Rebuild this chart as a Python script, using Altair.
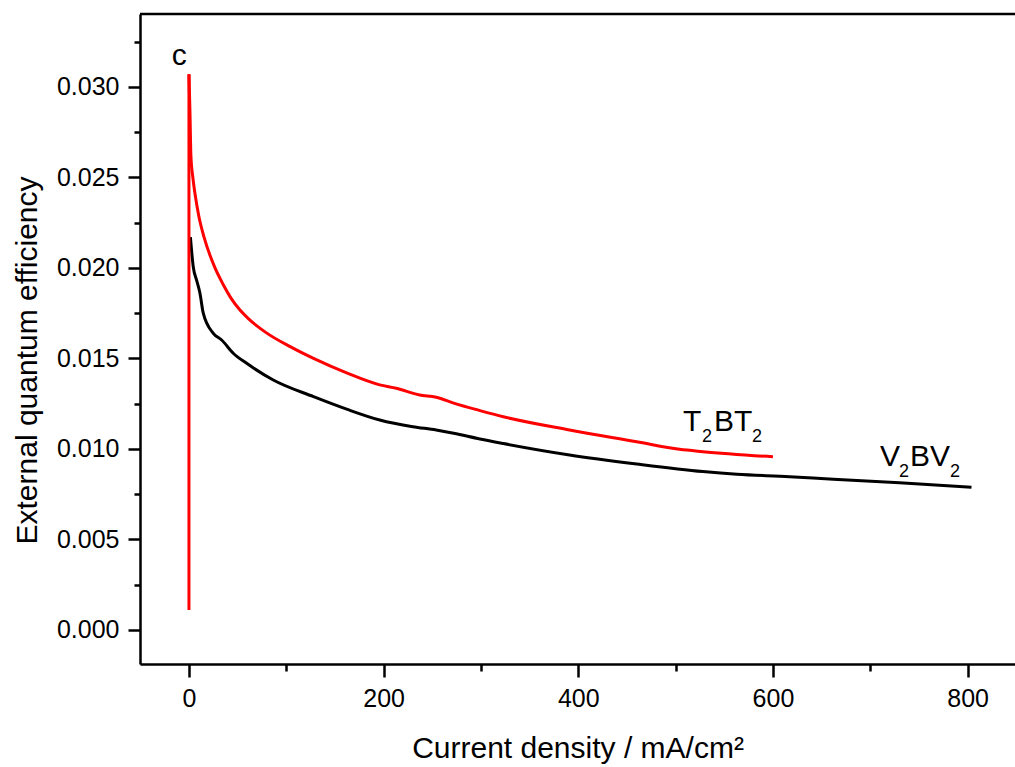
import altair as alt
import pandas as pd

# T2BT2 (red)
t_x = [0, 0, 1, 2, 4, 6.5, 10, 15.5, 26, 35, 43, 52, 61, 80, 104, 128, 162, 196, 213, 237, 254, 272, 299, 323,
       391, 460, 504, 528, 600]
t_y = [0.0011, 0.0307, 0.0287, 0.0262, 0.0250, 0.0240, 0.0229, 0.0217, 0.0201, 0.0191, 0.01835, 0.0177, 0.0172,
       0.0164, 0.01565, 0.0150, 0.0142, 0.01354, 0.01335, 0.01298, 0.01286, 0.01253, 0.01212, 0.01178,
       0.01105, 0.01040, 0.00998, 0.00985, 0.00957]

# V2BV2 (black)
v_x = [1.5, 4.4, 8.0, 11.3, 14.7, 25, 33.6, 45.5, 59.3, 86.6, 128, 162, 196, 230, 254, 272, 299, 323, 391, 460,
       528, 563, 617, 662, 730, 804]
v_y = [0.0217, 0.02007, 0.0193, 0.01860, 0.01750, 0.01639, 0.01602, 0.01529, 0.01473, 0.01381, 0.01289, 0.0122,
       0.01160, 0.01123, 0.01105, 0.01087, 0.01055, 0.0103, 0.00967, 0.00917, 0.00875, 0.00860, 0.00847,
       0.00832, 0.00814, 0.00788]

x_ticks = [0, 100, 200, 300, 400, 500, 600, 700, 800]
y_ticks = [0, 0.0025, 0.005, 0.0075, 0.01, 0.0125, 0.015, 0.0175, 0.02, 0.0225, 0.025, 0.0275, 0.03, 0.0325]

# annotations: text pieces, subscript flags, x offsets (px)
lab_c = {"t": "c", "x": -10, "y": 0.0317}
lab_t = {"x": 507.5, "y": 0.01099, "pieces": ["T", "2", "BT", "2"], "sub": [0, 1, 0, 1], "dx": [0, 19, 31, 69]}
lab_v = {"x": 710, "y": 0.00906, "pieces": ["V", "2", "BV", "2"], "sub": [0, 1, 0, 1], "dx": [0, 19, 30, 70]}

df_t = pd.DataFrame({"x": t_x, "y": t_y, "i": range(len(t_x))})
df_v = pd.DataFrame({"x": v_x, "y": v_y, "i": range(len(v_x))})

FONT = "Liberation Sans"
W, H = 875, 650

xscale = alt.Scale(domain=[-50.3, 848.7], nice=False, zero=False)
yscale = alt.Scale(domain=[-0.00188, 0.03403], nice=False, zero=False)

xaxis = alt.Axis(
    title="Current density / mA/cm\u00b2", values=x_ticks,
    labelExpr="datum.value % 200 == 0 ? datum.label : ''",
    tickSize={"condition": {"test": "datum.value % 200 == 0", "value": 13}, "value": 7},
    grid=False, domainColor="black", domainWidth=2.5, tickColor="black", tickWidth=2.5,
    labelFont=FONT, labelFontSize=25, labelColor="black", labelPadding=9,
    titleFont=FONT, titleFontSize=30, titleFontWeight="normal", titleColor="black", titlePadding=22,
)
yaxis = alt.Axis(
    title="External quantum efficiency", values=y_ticks,
    labelExpr="round(datum.value*400) % 2 == 0 ? format(datum.value, '.3f') : ''",
    tickSize={"condition": {"test": "round(datum.value*400) % 2 == 0", "value": 12}, "value": 6},
    grid=False, domainColor="black", domainWidth=2.5, tickColor="black", tickWidth=2.5,
    labelFont=FONT, labelFontSize=25, labelColor="black", labelPadding=9,
    titleFont=FONT, titleFontSize=30, titleFontWeight="normal", titleColor="black", titlePadding=14,
    titleY=346,
)

black = alt.Chart(df_v).mark_line(color="black", strokeWidth=3, clip=True, interpolate="monotone").encode(
    x=alt.X("x:Q", scale=xscale, axis=xaxis),
    y=alt.Y("y:Q", scale=yscale, axis=yaxis),
    order="i:Q",
)
red_vert = alt.Chart(df_t.iloc[:2]).mark_line(color="#ff0000", strokeWidth=3, clip=True).encode(
    x=alt.X("x:Q", scale=xscale),
    y=alt.Y("y:Q", scale=yscale),
    order="i:Q",
)
red_curve = alt.Chart(df_t.iloc[1:]).mark_line(color="#ff0000", strokeWidth=3, clip=True,
                                                interpolate="monotone").encode(
    x=alt.X("x:Q", scale=xscale),
    y=alt.Y("y:Q", scale=yscale),
    order="i:Q",
)

layers = [black, red_vert, red_curve]

layers.append(
    alt.Chart(pd.DataFrame([lab_c])).mark_text(
        font=FONT, fontSize=30, color="black", align="center", baseline="middle"
    ).encode(x=alt.X("x:Q", scale=xscale), y=alt.Y("y:Q", scale=yscale), text="t:N")
)
for lab in (lab_t, lab_v):
    for piece, sub, dx in zip(lab["pieces"], lab["sub"], lab["dx"]):
        layers.append(
            alt.Chart(pd.DataFrame([{"x": lab["x"], "y": lab["y"], "t": piece}])).mark_text(
                font=FONT, fontSize=18 if sub else 30, color="black", align="left",
                baseline="alphabetic", dx=dx, dy=11 if sub else 0,
            ).encode(x=alt.X("x:Q", scale=xscale), y=alt.Y("y:Q", scale=yscale), text="t:N")
        )

top = alt.Chart(pd.DataFrame([lab_c])).mark_rule(color="black", strokeWidth=2.5).encode(
    x=alt.value(0), x2=alt.value(W), y=alt.value(0)
)
layers.append(top)

chart = alt.layer(*layers).properties(
    width=W, height=H,
    autosize=alt.AutoSizeParams(type="none"),
    padding={"left": 140, "top": 14, "right": 0, "bottom": 103},
).configure_view(stroke=None).configure(background="white")

chart.save("out.html", embed_options={"renderer": "svg", "actions": False})
